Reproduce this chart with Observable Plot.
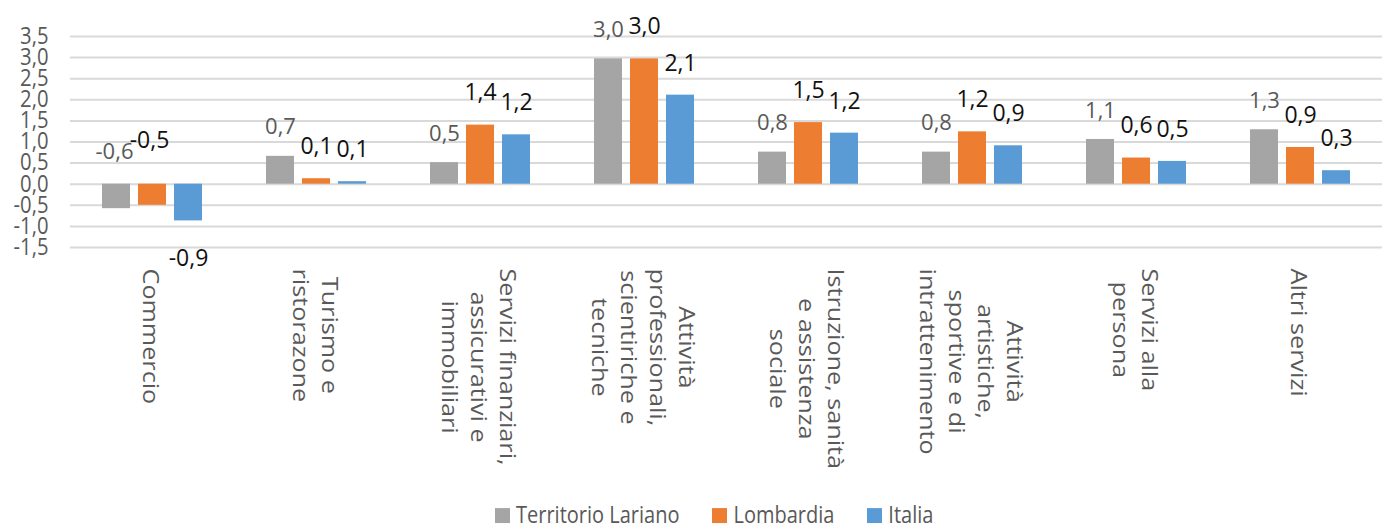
<!DOCTYPE html>
<html><head><meta charset="utf-8">
<script src="https://cdn.jsdelivr.net/npm/d3@7"></script>
<script src="https://cdn.jsdelivr.net/npm/@observablehq/plot@0.6"></script>
<style>
body{margin:0;background:#fff;font-family:"Open Sans",sans-serif;}
#chart{position:relative;width:1392px;height:529px;}
#legend{position:absolute;top:504px;left:495px;display:flex;align-items:center;font-size:20px;color:#595959;line-height:22px;transform:scaleY(1.15);transform-origin:left center;white-space:nowrap;}
.item{display:flex;align-items:center;margin-right:33px;}
.sw{display:inline-block;width:15px;height:13px;margin-right:6px;}
</style></head><body><div id="chart"><div id="legend"></div></div><script>
const categories = [
  "Commercio",
  "Turismo e\nristorazone",
  "Servizi finanziari,\nassicurativi e\nimmobiliari",
  "Attività\nprofessionali,\nscientiriche e\ntecniche",
  "Istruzione, sanità\ne assistenza\nsociale",
  "Attività\nartistiche,\nsportive e di\nintrattenimento",
  "Servizi alla\npersona",
  "Altri servizi"
];
const series = ["Territorio Lariano", "Lombardia", "Italia"];
const lariano   = [-0.58, 0.66, 0.51, 2.97, 0.76, 0.76, 1.06, 1.29];
const lombardia = [-0.50, 0.13, 1.40, 2.97, 1.46, 1.24, 0.62, 0.87];
const italia    = [-0.87, 0.06, 1.17, 2.11, 1.21, 0.91, 0.54, 0.32];
const colors = ["#a5a5a5", "#ed7d31", "#5b9bd5"];
const yTicks = [-1.5, -1, -0.5, 0, 0.5, 1, 1.5, 2, 2.5, 3, 3.5];

const seriesValues = [lariano, lombardia, italia];
const rows = categories.flatMap((c, i) => series.map((s, j) => ({cat: c, series: s, value: seriesValues[j][i]})));
const fmt = v => v.toFixed(1).replace(".", ",");
const pos = d => d.value >= 0;
const lbl = d => fmt(d.value);

const svg = Plot.plot({
  width: 1392,
  height: 500,
  marginLeft: 67,
  marginRight: 7,
  marginTop: 36,
  marginBottom: 253,
  style: "font-family:'Open Sans',sans-serif;font-size:23px;color:#595959;overflow:visible;background:transparent",
  fx: {domain: categories, padding: 0, axis: null},
  x: {domain: series, paddingInner: 0.22, paddingOuter: 0.83, axis: null},
  y: {domain: [-1.5, 3.5], ticks: yTicks, tickFormat: fmt, tickSize: 0, tickPadding: 22, label: null},
  color: {domain: series, range: colors},
  marks: [
    Plot.gridY(yTicks, {stroke: "#d9d9d9", strokeOpacity: 1, strokeWidth: 2}),
    Plot.barY(rows, {fx: "cat", x: "series", y1: 0, y2: "value", fill: "series"}),
    // positive values: labels above the bar end
    Plot.text(rows.filter(d => pos(d) && d.series === series[0]), {fx: "cat", x: "series", y: "value", text: lbl, dy: -29, fill: "#595959", fontSize: 22}),
    Plot.text(rows.filter(d => pos(d) && d.series !== series[0]), {fx: "cat", x: "series", y: "value", text: lbl, dy: -32, fill: "#111", fontSize: 23}),
    // negative values: labels as placed in the original
    Plot.text(rows.filter(d => !pos(d) && d.series === series[0]), {fx: "cat", x: "series", y: 0, text: lbl, dy: -32, dx: -2, fill: "#595959", fontSize: 22}),
    Plot.text(rows.filter(d => !pos(d) && d.series === series[1]), {fx: "cat", x: "series", y: 0, text: lbl, dy: -44, dx: -3, fill: "#111", fontSize: 23}),
    Plot.text(rows.filter(d => !pos(d) && d.series === series[2]), {fx: "cat", x: "series", y: "value", text: lbl, dy: 38, fill: "#111", fontSize: 23}),
    Plot.text(categories, {fx: d => d, text: d => d, frameAnchor: "bottom", dy: 21, rotate: 90, textAnchor: "middle", lineAnchor: "middle", lineHeight: 1.38, fontSize: 21, fill: "#595959"})
  ]
});
const chart = document.getElementById("chart");
chart.insertBefore(svg, chart.firstChild);

const flatCats = new Set(categories.map(c => c.replace(/\n/g, "")));
d3.select(svg).selectAll("text").each(function() {
  const t = this.getAttribute("transform") || "";
  if (flatCats.has(this.textContent)) {
    const w = this.getBBox().width;
    this.setAttribute("transform", `${t} translate(${w * 0.6},0) scale(1.2,1)`);
  }
});
d3.select(svg).selectAll("g[aria-label='y-axis tick label'] text").each(function() {
  const t = this.getAttribute("transform") || "";
  this.setAttribute("transform", `${t} scale(0.88,1)`);
});

const legend = d3.select("#legend");
series.forEach((s, i) => {
  const it = legend.append("div").attr("class", "item");
  it.append("span").attr("class", "sw").style("background", colors[i]);
  it.append("span").text(s);
});
</script></body></html>
